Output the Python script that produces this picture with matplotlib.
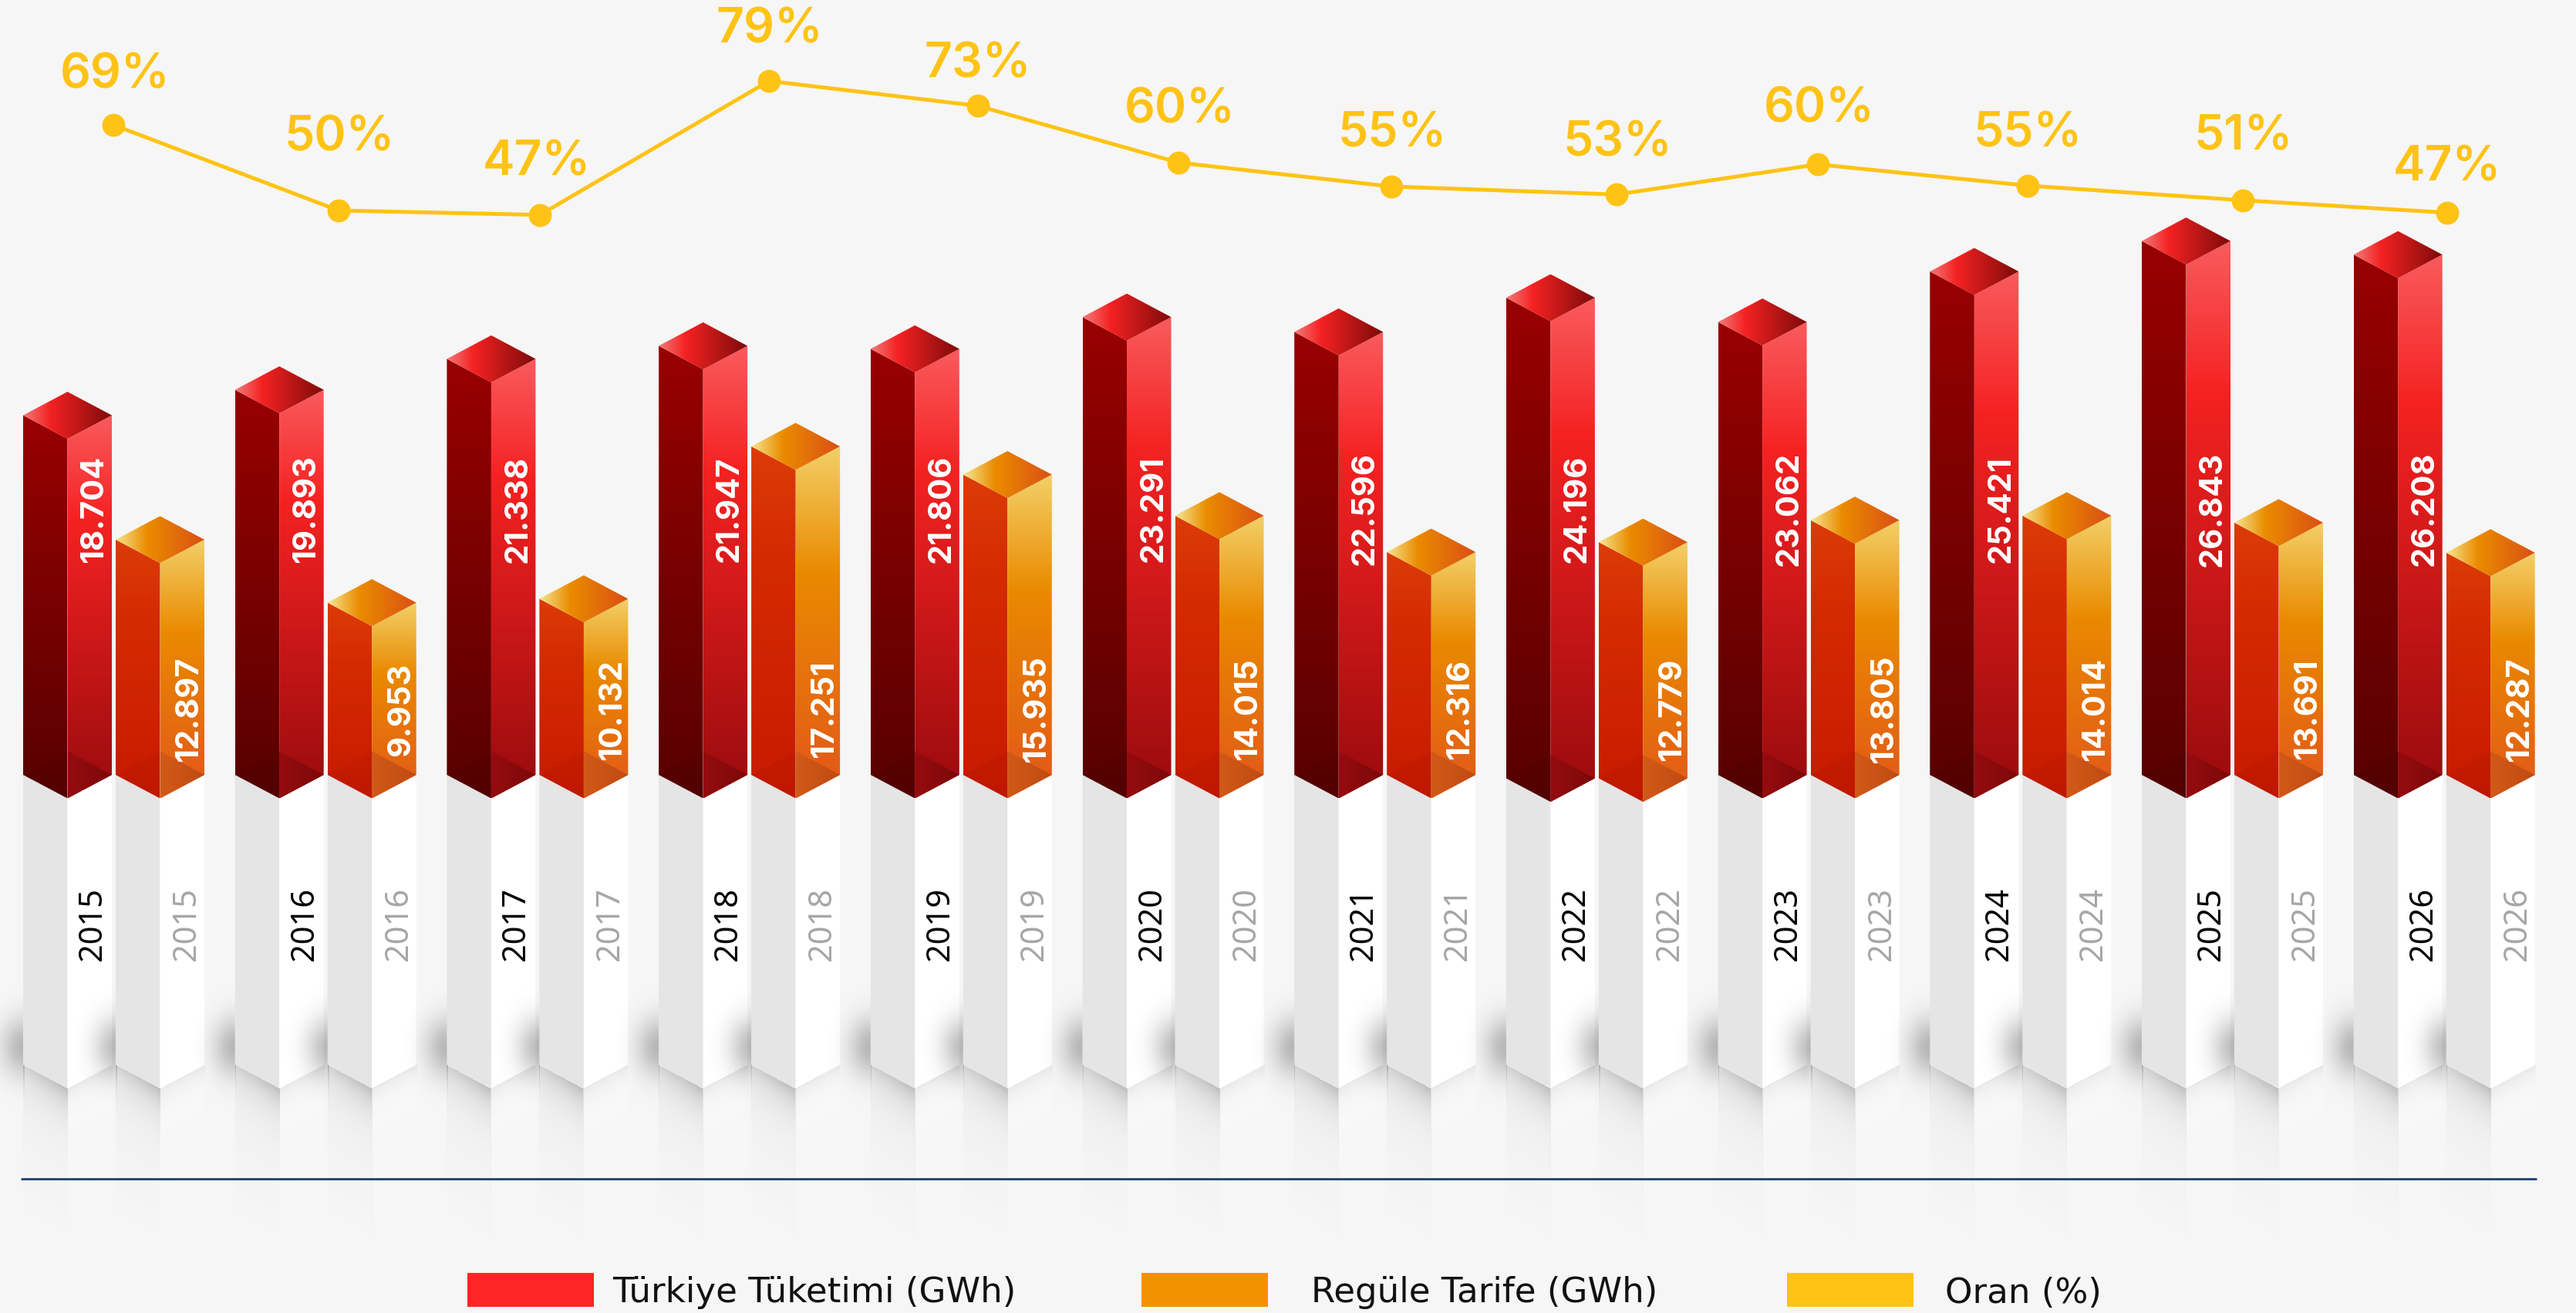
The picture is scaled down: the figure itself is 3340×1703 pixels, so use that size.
import numpy as np
import matplotlib
matplotlib.use('Agg')
import matplotlib.pyplot as plt
from matplotlib.colors import to_rgb
from matplotlib.patches import Polygon, Rectangle

# values
years = [2015, 2016, 2017, 2018, 2019, 2020, 2021, 2022, 2023, 2024, 2025, 2026]
tuketim = [18704, 19893, 21338, 21947, 21806, 23291, 22596, 24196, 23062, 25421, 26843, 26208]
tarife = [12897, 9953, 10132, 17251, 15935, 14015, 12316, 12779, 13805, 14014, 13691, 12287]
oran_labels = [69, 50, 47, 79, 73, 60, 55, 53, 60, 55, 51, 47]
# height of the line itself, it does not sit exactly on the rounded labels
oran_line = [69.0, 49.7, 48.7, 78.9, 73.3, 60.5, 55.1, 53.3, 60.1, 55.3, 52.0, 49.2]

legend_names = ['Türkiye Tüketimi (GWh)', 'Regüle Tarife (GWh)', 'Oran (%)']

# layout, everything in pixels of the 3340x1703 picture
W, H = 3340, 1703
STEP = 274.7
LEFT0 = 30
HALF = 57.5
DEPTH = 30.5
GAP = 120
BOTTOM = 1005
BASE_BOTTOM = 1381
PX_PER_GWH = 0.02777
GWH_AT_BOTTOM = 1910
LINE_PX_PER_PCT = 5.75
oran_x = [147, 439, 700, 997, 1268, 1528, 1804, 2096, 2357, 2629, 2908, 3173]
oran_label_x = [149, 440, 696, 998, 1268, 1530, 1805, 2097, 2359, 2629, 2909, 3173]
oran_label_up = [64, 94, 68, 66, 53, 68, 68, 66, 71, 67, 82, 58]

BG = '#f6f6f6'
YELLOW = '#fec315'


def gx(px):
    return (px - LEFT0) / STEP


def gy(py):
    return GWH_AT_BOTTOM + (BOTTOM - py) / PX_PER_GWH


def stops_to_rgb(stops, n=256):
    pos = [s[0] for s in stops]
    cols = np.array([to_rgb(s[1]) for s in stops])
    t = np.linspace(0, 1, n)
    return np.stack([np.interp(t, pos, cols[:, c]) for c in range(3)], axis=1)


def grad_poly(pts, stops, horizontal=False):
    # pts are in pixels, gradient runs top to bottom or left to right
    xs = [gx(p[0]) for p in pts]
    ys = [gy(p[1]) for p in pts]
    rgb = stops_to_rgb(stops)
    if horizontal:
        arr = rgb[np.newaxis, :, :]
    else:
        arr = rgb[:, np.newaxis, :]
    im = ax.imshow(arr, extent=[min(xs), max(xs), min(ys), max(ys)], aspect='auto',
                   origin='upper', interpolation='bilinear', zorder=2)
    im.set_clip_path(Polygon(list(zip(xs, ys)), closed=True, transform=ax.transData))


def flat_poly(pts, color, alpha=1.0):
    xy = [(gx(p[0]), gy(p[1])) for p in pts]
    ax.add_patch(Polygon(xy, closed=True, facecolor=color, edgecolor='none', alpha=alpha, zorder=2))


def rgba_image(arr, x0, x1, y0, y1):
    ax.imshow(arr, extent=[gx(x0), gx(x1), gy(y1), gy(y0)], aspect='auto', origin='upper',
              interpolation='bilinear', zorder=2)


def side_shadow(left):
    # soft blob on the left of a column
    xx = np.arange(left - 90, left + 1)
    yy = np.arange(1270, 1450)
    X, Y = np.meshgrid(xx, yy)
    a = 0.26 * np.exp(-((X - left) / 28.0) ** 2 - ((Y - 1358) / 38.0) ** 2)
    arr = np.zeros(X.shape + (4,))
    arr[..., 3] = a
    rgba_image(arr, left - 90, left + 1, 1270, 1450)


def reflection(left):
    mid = left + HALF
    right = left + 2 * HALF
    xx = np.arange(left, right + 1)
    yy = np.arange(BASE_BOTTOM - 2, 1625)
    X, Y = np.meshgrid(xx, yy)
    edge = BASE_BOTTOM + DEPTH * (1 - np.abs(X - mid) / HALF)
    d = np.clip(Y - edge, 0, None)
    fade = np.clip(1 - d / 215.0, 0, 1)
    arr = np.zeros(X.shape + (4,))
    is_left = X < mid
    a_left = 0.34 * np.exp(-d / 24.0) * (0.6 + 0.4 * (X - left) / HALF) + 0.03 * fade
    arr[..., 3] = np.where(is_left, a_left, 0.30 * fade)
    arr[..., :3] = np.where(is_left[..., np.newaxis], 0.35, 1.0)
    arr[Y < edge] = 0
    rgba_image(arr, left, right, BASE_BOTTOM - 2, 1625)
    # faint dark rim under the white face
    arr2 = np.zeros(X.shape + (4,))
    arr2[..., 3] = np.where(is_left, 0, 0.06 * np.exp(-d / 14.0))
    arr2[Y < edge] = 0
    rgba_image(arr2, left, right, BASE_BOTTOM - 2, 1625)


def base_column(left):
    mid = left + HALF
    right = left + 2 * HALF
    flat_poly([(left, BOTTOM - 2), (mid, BOTTOM - 2), (mid, BASE_BOTTOM + DEPTH), (left, BASE_BOTTOM)], '#e5e5e5')
    flat_poly([(mid, BOTTOM - 2), (right, BOTTOM - 2), (right, BASE_BOTTOM), (mid, BASE_BOTTOM + DEPTH)], '#ffffff')


def bar_3d(left, value, colors, drop=0):
    mid = left + HALF
    right = left + 2 * HALF
    top = BOTTOM - PX_PER_GWH * (value - GWH_AT_BOTTOM)
    low = BOTTOM + drop
    # left face
    grad_poly([(left, top), (mid, top + DEPTH), (mid, low + DEPTH), (left, low)], colors['left'])
    # right face
    grad_poly([(mid, top + DEPTH), (right, top), (right, low), (mid, low + DEPTH)], colors['right'])
    # darker corner at the foot of the bar
    grad_poly([(mid, low - DEPTH), (right, low), (mid, low + DEPTH)], colors['foot'], horizontal=True)
    flat_poly([(left, low), (mid, low - DEPTH), (mid, low + DEPTH)], '#000000', alpha=0.04)
    # top
    grad_poly([(left, top), (mid, top - DEPTH), (right, top), (mid, top + DEPTH)], colors['top'], horizontal=True)


red = {
    'left': [(0, '#990000'), (1, '#570000')],
    'right': [(0, '#f95b5e'), (0.27, '#f52222'), (1, '#990b0d')],
    'foot': [(0, '#960c10'), (1, '#7c0808')],
    'top': [(0, '#f37a7a'), (0.3, '#f52222'), (1, '#7e0a0a')],
}
orange = {
    'left': [(0, '#dc3c08'), (0.3, '#d52b02'), (1, '#c81a00')],
    'right': [(0, '#f3d068'), (0.36, '#ea8a00'), (1, '#e2561a')],
    'foot': [(0, '#d25a18'), (1, '#c04a12')],
    'top': [(0, '#f6e690'), (0.35, '#ea8c00'), (1, '#da4f14')],
}

plt.rcParams['font.family'] = ['Inter', 'DejaVu Sans']

fig = plt.figure(figsize=(W / 100, H / 100), dpi=100, facecolor=BG)
ax = fig.add_axes([0, 0, 1, 1])
ax.set_facecolor(BG)
ax.set_xlim(gx(0), gx(W))
ax.set_ylim(gy(H), gy(0))
ax.axis('off')

for i, year in enumerate(years):
    red_left = LEFT0 + STEP * i
    orange_left = red_left + GAP
    drop = 4.5 if year == 2022 else 0

    reflection(red_left)
    side_shadow(red_left)
    base_column(red_left)
    reflection(orange_left)
    side_shadow(orange_left)
    base_column(orange_left)

    bar_3d(red_left, tuketim[i], red, drop)
    bar_3d(orange_left, tarife[i], orange, drop)

    ax.text(gx(red_left + 92), gy(660), f'{tuketim[i] / 1000:.3f}', rotation=90, color='white',
            fontsize=30, fontweight='bold', ha='center', va='center', zorder=5)
    ax.text(gx(orange_left + 95), gy(920), f'{tarife[i] / 1000:.3f}', rotation=90, color='white',
            fontsize=30, fontweight='bold', ha='center', va='center', zorder=5)
    ax.text(gx(red_left + 90), gy(1198), str(year), rotation=90, color='black', family='Noto Sans',
            fontsize=30, ha='center', va='center', zorder=5)
    ax.text(gx(orange_left + 92), gy(1198), str(year), rotation=90, color='#a6a6a6', family='Noto Sans',
            fontsize=30, ha='center', va='center', zorder=5)

# bottom rule
ax.plot([gx(27), gx(3289)], [gy(1529), gy(1529)], color='#1c3f6e', lw=2.0, zorder=4, solid_capstyle='butt')

# percentage line on its own scale
ax2 = ax.twinx()
ax2.set_ylim(69 + (162 - H) / LINE_PX_PER_PCT, 69 + 162 / LINE_PX_PER_PCT)
ax2.axis('off')
line_x = [gx(p) for p in oran_x]
ax2.plot(line_x, oran_line, color=YELLOW, lw=3.6, marker='o', ms=21.5, mew=0, zorder=6)
for i, label in enumerate(oran_labels):
    ax2.annotate(f'{label}%', xy=(gx(oran_label_x[i]), oran_line[i]), xytext=(0, oran_label_up[i]),
                 textcoords='offset pixels', color=YELLOW, fontsize=45, fontweight='semibold',
                 ha='center', va='center', zorder=6)

# legend
swatches = [(606, '#ff2526'), (1480, '#f39200'), (2317, YELLOW)]
text_x = [794, 1700, 2522]
for (sx, col), tx, name in zip(swatches, text_x, legend_names):
    ax.add_patch(Rectangle((gx(sx), gy(1695)), 164 / STEP, gy(1651) - gy(1695), facecolor=col,
                           edgecolor='none', zorder=3))
    ax.text(gx(tx), gy(1677), name, color='#111111', family='DejaVu Sans', fontsize=32.5,
            ha='left', va='center', zorder=5)

fig.savefig('out.png', dpi=100, facecolor=BG)
